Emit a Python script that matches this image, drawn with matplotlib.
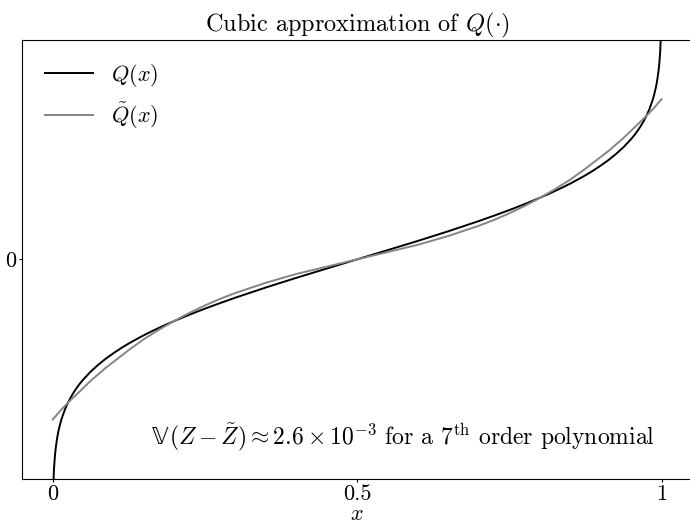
import matplotlib
matplotlib.use('Agg')
import matplotlib.pyplot as plt
from matplotlib.transforms import offset_copy

plt.rcParams['font.family'] = ['cmr10', 'DejaVu Sans']
plt.rcParams['mathtext.fontset'] = 'cm'
plt.rcParams['axes.formatter.use_mathtext'] = True
plt.rcParams['font.size'] = 16

# Q(x): values
x_q = [0.0001, 0.001, 0.002, 0.0035, 0.005, 0.007, 0.0085, 0.01, 0.0125,
       0.015, 0.02, 0.025, 0.03, 0.035, 0.04, 0.045, 0.05, 0.0625, 0.075,
       0.0875, 0.1, 0.1125, 0.125, 0.1375, 0.15, 0.1625, 0.175, 0.1875, 0.2,
       0.225, 0.25, 0.275, 0.3, 0.35, 0.4, 0.45, 0.5,
       0.55, 0.6, 0.65, 0.7, 0.725, 0.75, 0.775, 0.8, 0.8125, 0.825, 0.8375,
       0.85, 0.8625, 0.875, 0.8875, 0.9, 0.9125, 0.925, 0.9375, 0.95, 0.955,
       0.96, 0.965, 0.97, 0.975, 0.98, 0.985, 0.9875, 0.99, 0.9915, 0.993,
       0.995, 0.9965, 0.998, 0.999, 0.9999]
q_vals = [-3.719, -3.090, -2.878, -2.697, -2.576, -2.457, -2.387, -2.326,
          -2.241, -2.170, -2.054, -1.960, -1.881, -1.812, -1.751, -1.695,
          -1.645, -1.534, -1.440, -1.356, -1.282, -1.213, -1.150, -1.092,
          -1.036, -0.984, -0.935, -0.887, -0.842, -0.755, -0.674, -0.598,
          -0.524, -0.385, -0.253, -0.126, 0.0,
          0.126, 0.253, 0.385, 0.524, 0.598, 0.674, 0.755, 0.842, 0.887,
          0.935, 0.984, 1.036, 1.092, 1.150, 1.213, 1.282, 1.356, 1.440,
          1.534, 1.645, 1.695, 1.751, 1.812, 1.881, 1.960, 2.054, 2.170,
          2.241, 2.326, 2.387, 2.457, 2.576, 2.697, 2.878, 3.090, 3.719]

# Q~(x): values
x_qt = [0.0, 0.0125, 0.025, 0.0375, 0.05, 0.0625, 0.075, 0.0875, 0.1, 0.125,
        0.15, 0.175, 0.2, 0.225, 0.25, 0.275, 0.3, 0.325, 0.35, 0.375, 0.4,
        0.425, 0.45, 0.475, 0.5, 0.525, 0.55, 0.575, 0.6, 0.625, 0.65, 0.675,
        0.7, 0.725, 0.75, 0.775, 0.8, 0.825, 0.85, 0.875, 0.9, 0.9125, 0.925,
        0.9375, 0.95, 0.9625, 0.975, 0.9875, 1.0]
qt_vals = [-2.19, -2.07, -1.96, -1.86, -1.76, -1.66, -1.57, -1.48, -1.40,
           -1.24, -1.09, -0.96, -0.84, -0.73, -0.63, -0.54, -0.46, -0.39,
           -0.32, -0.26, -0.20, -0.15, -0.10, -0.05, 0.0, 0.05, 0.10, 0.15,
           0.20, 0.26, 0.32, 0.39, 0.46, 0.54, 0.63, 0.73, 0.84, 0.96, 1.09,
           1.24, 1.40, 1.48, 1.57, 1.66, 1.76, 1.86, 1.96, 2.07, 2.19]

x_ticks = [0, 0.5, 1]
x_tick_labels = ['0', '0.5', '1']

fig = plt.figure(figsize=(6.9, 5.24), dpi=100)
ax = fig.add_axes([0.0323, 0.0864, 0.9706, 0.8373])

ax.plot(x_q, q_vals, color='black', lw=1.4, label=r'$Q(x)$')
ax.plot(x_qt, qt_vals, color='#858585', lw=1.4, label=r'$\tilde{Q}(x)$')

ax.set_xlim(-0.05, 1.05)
ax.set_ylim(-3.0, 3.0)
ax.set_xticks(x_ticks)
ax.set_xticklabels(x_tick_labels)
ax.set_yticks([0])
ax.set_yticklabels(['0'])
ax.tick_params(length=2.5, pad=2, labelsize=16)
ax.set_xlabel(r'$x$', labelpad=0)
ax.set_title(r'Cubic approximation of $Q(\cdot)$', fontsize=17.5, pad=4)

ax.legend(loc='upper left', frameon=False, handlelength=2.2,
          borderaxespad=0.6, labelspacing=0.5)

# annotation: the double-struck V comes from DejaVu Sans, the rest is mathtext
note = ax.text(0.945, 0.095,
               r'$(Z-\tilde{Z})\approx 2.6\times 10^{-3}$'
               r' for a 7$^{\mathrm{th}}$ order polynomial',
               transform=ax.transAxes, ha='right', va='center', fontsize=17)
fig.canvas.draw()
bb = note.get_window_extent()
left_x, mid_y = ax.transAxes.inverted().transform((bb.x0, (bb.y0 + bb.y1) / 2))
ax.text(left_x, mid_y, '𝕍', family='DejaVu Sans', fontsize=16.5,
        transform=offset_copy(ax.transAxes, fig=fig, x=-1, y=0, units='points'),
        ha='right', va='center')

fig.savefig('out.png', dpi=100)
